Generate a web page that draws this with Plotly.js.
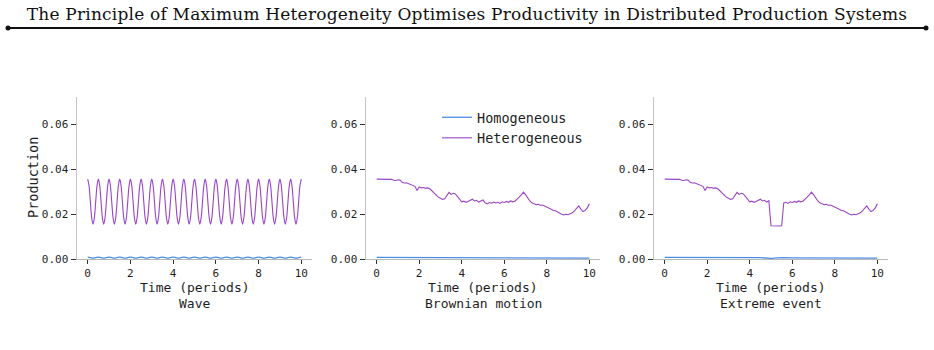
<!DOCTYPE html>
<html>
<head>
<meta charset="utf-8">
<script src="https://cdn.plot.ly/plotly-3.0.1.min.js"></script>
<style>
  html, body { margin: 0; padding: 0; background: #fff; }
  #chart { width: 934px; height: 350px; }
  #chart .gtitle { letter-spacing: 0.2px; }
</style>
</head>
<body>
<div id="chart"></div>
<script>
// Production of a distributed system under three perturbation scenarios.

// Wave scenario: heterogeneous sampled every 1/16 period, homogeneous every 1/8
const waveHeterogeneous = [
  0.0355, 0.0326, 0.0255, 0.0184, 0.0155, 0.0184, 0.0255, 0.0326,
  0.0355, 0.0326, 0.0255, 0.0184, 0.0155, 0.0184, 0.0255, 0.0326,
  0.0355, 0.0326, 0.0255, 0.0184, 0.0155, 0.0184, 0.0255, 0.0326,
  0.0355, 0.0326, 0.0255, 0.0184, 0.0155, 0.0184, 0.0255, 0.0326,
  0.0355, 0.0326, 0.0255, 0.0184, 0.0155, 0.0184, 0.0255, 0.0326,
  0.0355, 0.0326, 0.0255, 0.0184, 0.0155, 0.0184, 0.0255, 0.0326,
  0.0355, 0.0326, 0.0255, 0.0184, 0.0155, 0.0184, 0.0255, 0.0326,
  0.0355, 0.0326, 0.0255, 0.0184, 0.0155, 0.0184, 0.0255, 0.0326,
  0.0355, 0.0326, 0.0255, 0.0184, 0.0155, 0.0184, 0.0255, 0.0326,
  0.0355, 0.0326, 0.0255, 0.0184, 0.0155, 0.0184, 0.0255, 0.0326,
  0.0355, 0.0326, 0.0255, 0.0184, 0.0155, 0.0184, 0.0255, 0.0326,
  0.0355, 0.0326, 0.0255, 0.0184, 0.0155, 0.0184, 0.0255, 0.0326,
  0.0355, 0.0326, 0.0255, 0.0184, 0.0155, 0.0184, 0.0255, 0.0326,
  0.0355, 0.0326, 0.0255, 0.0184, 0.0155, 0.0184, 0.0255, 0.0326,
  0.0355, 0.0326, 0.0255, 0.0184, 0.0155, 0.0184, 0.0255, 0.0326,
  0.0355, 0.0326, 0.0255, 0.0184, 0.0155, 0.0184, 0.0255, 0.0326,
  0.0355, 0.0326, 0.0255, 0.0184, 0.0155, 0.0184, 0.0255, 0.0326,
  0.0355, 0.0326, 0.0255, 0.0184, 0.0155, 0.0184, 0.0255, 0.0326,
  0.0355, 0.0326, 0.0255, 0.0184, 0.0155, 0.0184, 0.0255, 0.0326,
  0.0355, 0.0326, 0.0255, 0.0184, 0.0155, 0.0184, 0.0255, 0.0326,
  0.0355
];
const waveHomogeneous = [
  0.0008, 0.0006, 0.0004, 0.0006, 0.0008, 0.0006, 0.0004, 0.0006,
  0.0008, 0.0006, 0.0004, 0.0006, 0.0008, 0.0006, 0.0004, 0.0006,
  0.0008, 0.0006, 0.0004, 0.0006, 0.0008, 0.0006, 0.0004, 0.0006,
  0.0008, 0.0006, 0.0004, 0.0006, 0.0008, 0.0006, 0.0004, 0.0006,
  0.0008, 0.0006, 0.0004, 0.0006, 0.0008, 0.0006, 0.0004, 0.0006,
  0.0008, 0.0006, 0.0004, 0.0006, 0.0008, 0.0006, 0.0004, 0.0006,
  0.0008, 0.0006, 0.0004, 0.0006, 0.0008, 0.0006, 0.0004, 0.0006,
  0.0008, 0.0006, 0.0004, 0.0006, 0.0008, 0.0006, 0.0004, 0.0006,
  0.0008, 0.0006, 0.0004, 0.0006, 0.0008, 0.0006, 0.0004, 0.0006,
  0.0008, 0.0006, 0.0004, 0.0006, 0.0008, 0.0006, 0.0004, 0.0006,
  0.0008
];

// Brownian motion scenario, sampled every 0.1 periods
const brownianHeterogeneous = [
  0.0355, 0.0355, 0.0354, 0.0355, 0.0355, 0.0354, 0.0355, 0.0354, 0.0350, 0.0349,
  0.0352, 0.0351, 0.0341, 0.0338, 0.0339, 0.0335, 0.0334, 0.0328, 0.0323, 0.0305,
  0.0320, 0.0316, 0.0318, 0.0314, 0.0316, 0.0312, 0.0302, 0.0293, 0.0284, 0.0275,
  0.0270, 0.0265, 0.0268, 0.0280, 0.0296, 0.0287, 0.0292, 0.0289, 0.0277, 0.0262,
  0.0254, 0.0257, 0.0252, 0.0256, 0.0262, 0.0266, 0.0258, 0.0261, 0.0253, 0.0259,
  0.0262, 0.0250, 0.0245, 0.0251, 0.0248, 0.0253, 0.0249, 0.0252, 0.0247, 0.0254,
  0.0251, 0.0256, 0.0252, 0.0258, 0.0254, 0.0257, 0.0264, 0.0275, 0.0285, 0.0297,
  0.0286, 0.0272, 0.0258, 0.0250, 0.0246, 0.0241, 0.0243, 0.0239, 0.0240, 0.0235,
  0.0232, 0.0228, 0.0222, 0.0217, 0.0214, 0.0208, 0.0203, 0.0199, 0.0196, 0.0199,
  0.0197, 0.0200, 0.0205, 0.0214, 0.0226, 0.0236, 0.0222, 0.0211, 0.0216, 0.0227,
  0.0245
];
// every 0.5 periods
const brownianHomogeneous = [
  0.0007, 0.0007, 0.0007, 0.0007, 0.0007, 0.0006, 0.0006, 0.0006, 0.0006, 0.0006,
  0.0006, 0.0006, 0.0005, 0.0005, 0.0005, 0.0005, 0.0005, 0.0005, 0.0004, 0.0004,
  0.0004
];

// Extreme event scenario: same path with a production shock from t = 5 to 5.5
const extremeHeterogeneous = [
  0.0355, 0.0355, 0.0354, 0.0355, 0.0355, 0.0354, 0.0355, 0.0354, 0.0350, 0.0349,
  0.0352, 0.0351, 0.0341, 0.0338, 0.0339, 0.0335, 0.0334, 0.0328, 0.0323, 0.0305,
  0.0320, 0.0316, 0.0318, 0.0314, 0.0316, 0.0312, 0.0302, 0.0293, 0.0284, 0.0275,
  0.0270, 0.0265, 0.0268, 0.0280, 0.0296, 0.0287, 0.0292, 0.0289, 0.0277, 0.0262,
  0.0254, 0.0257, 0.0252, 0.0256, 0.0262, 0.0266, 0.0258, 0.0261, 0.0253, 0.0259,
  0.0148, 0.0147, 0.0148, 0.0148, 0.0147, 0.0148, 0.0249, 0.0252, 0.0247, 0.0254,
  0.0251, 0.0256, 0.0252, 0.0258, 0.0254, 0.0257, 0.0264, 0.0275, 0.0285, 0.0297,
  0.0286, 0.0272, 0.0258, 0.0250, 0.0246, 0.0241, 0.0243, 0.0239, 0.0240, 0.0235,
  0.0232, 0.0228, 0.0222, 0.0217, 0.0214, 0.0208, 0.0203, 0.0199, 0.0196, 0.0199,
  0.0197, 0.0200, 0.0205, 0.0214, 0.0226, 0.0236, 0.0222, 0.0211, 0.0216, 0.0227,
  0.0245
];
const extremeHomogeneous = [
  0.0007, 0.0007, 0.0007, 0.0007, 0.0007, 0.0006, 0.0006, 0.0006, 0.0006, 0.0006,
  0.0003, 0.0006, 0.0005, 0.0005, 0.0005, 0.0005, 0.0005, 0.0005, 0.0004, 0.0004,
  0.0004
];

const seriesNames = ['Homogeneous', 'Heterogeneous'];
const scenarioNames = ['Wave', 'Brownian motion', 'Extreme event'];
const xTickValues = [0, 2, 4, 6, 8, 10];
const yTickValues = [0, 0.02, 0.04, 0.06];
const xAxisLabel = 'Time (periods)';
const yAxisLabel = 'Production';
const chartTitle = 'The Principle of Maximum Heterogeneity Optimises Productivity in Distributed Production Systems';

const BLUE = '#4a8fe6';
const PURPLE = '#9a45c8';
const INK = '#1e1e1e';
const MONO = '"DejaVu Sans Mono", "Liberation Mono", monospace';
const W = 934, H = 350;

const panels = [
  { hom: waveHomogeneous, homDx: 0.125, het: waveHeterogeneous, hetDx: 0.0625, spline: true },
  { hom: brownianHomogeneous, homDx: 0.5, het: brownianHeterogeneous, hetDx: 0.1 },
  { hom: extremeHomogeneous, homDx: 0.5, het: extremeHeterogeneous, hetDx: 0.1 }
];
const domainsPx = [[77, 312], [366, 600], [654, 888]];
const yDomain = [1 - 259 / H, 1 - 97 / H];
const py = px => 1 - px / H;

const traces = [];
const layout = {
  width: W, height: H,
  margin: { l: 0, r: 0, t: 0, b: 0 },
  paper_bgcolor: '#fff', plot_bgcolor: '#fff',
  font: { family: MONO, color: INK, size: 10 },
  title: {
    text: chartTitle,
    font: { family: '"DejaVu Serif", "Liberation Serif", serif', size: 17, color: '#111' },
    x: 0.5, xanchor: 'center', y: py(14), yanchor: 'middle'
  },
  showlegend: true,
  legend: {
    x: 437 / W, xanchor: 'left', y: py(102), yanchor: 'top',
    bgcolor: 'rgba(0,0,0,0)', borderwidth: 0,
    font: { family: MONO, size: 13.5, color: INK }
  },
  shapes: [], annotations: []
};

panels.forEach((p, i) => {
  const n = i === 0 ? '' : String(i + 1);
  const xa = 'x' + n, ya = 'y' + n;
  const line = p.spline ? { shape: 'spline', smoothing: 1 } : {};
  traces.push({
    type: 'scatter', mode: 'lines', name: seriesNames[0],
    x0: 0, dx: p.homDx, y: p.hom, xaxis: xa, yaxis: ya,
    line: Object.assign({ color: BLUE, width: 1.3 }, line),
    showlegend: i === 1
  });
  traces.push({
    type: 'scatter', mode: 'lines', name: seriesNames[1],
    x0: 0, dx: p.hetDx, y: p.het, xaxis: xa, yaxis: ya,
    line: Object.assign({ color: PURPLE, width: 1.1 }, line),
    showlegend: i === 1
  });
  const d = domainsPx[i];
  layout['xaxis' + n] = {
    domain: [d[0] / W, d[1] / W], anchor: ya,
    range: [-0.5, 10.5], tickvals: xTickValues,
    ticks: 'outside', ticklen: 4, tickcolor: '#333', tickwidth: 1,
    showline: true, linecolor: '#b8b8b8', linewidth: 1,
    showgrid: false, zeroline: false,
    tickfont: { family: MONO, size: 11, color: INK }
  };
  layout['yaxis' + n] = {
    domain: yDomain, anchor: xa,
    range: [0, 0.072], tickvals: yTickValues, tickformat: '.2f',
    ticks: 'outside', ticklen: 5, tickcolor: '#333', tickwidth: 1,
    showline: true, linecolor: '#c4c4c4', linewidth: 1.5,
    showgrid: false, zeroline: false,
    tickfont: { family: MONO, size: 11, color: INK }
  };
  const cx = (d[0] + d[1]) / 2 / W;
  // x-axis label and scenario name beneath each panel
  layout.annotations.push({
    text: xAxisLabel, xref: 'paper', yref: 'paper', x: cx, y: py(287),
    xanchor: 'center', yanchor: 'middle', showarrow: false,
    font: { family: MONO, size: 13, color: INK }
  });
  layout.annotations.push({
    text: scenarioNames[i], xref: 'paper', yref: 'paper', x: cx, y: py(303),
    xanchor: 'center', yanchor: 'middle', showarrow: false,
    font: { family: MONO, size: 13, color: INK }
  });
});

// y-axis label on the first panel only
layout.annotations.push({
  text: yAxisLabel, xref: 'paper', yref: 'paper', x: 33 / W, y: py(178),
  xanchor: 'center', yanchor: 'middle', textangle: -90, showarrow: false,
  font: { family: MONO, size: 13.5, color: INK }
});

// Rule under the title with round end caps
const ruleY = py(28);
layout.shapes.push({
  type: 'line', xref: 'paper', yref: 'paper',
  x0: 8 / W, x1: 926 / W, y0: ruleY, y1: ruleY,
  line: { color: '#111', width: 2 }
});
[8, 926].forEach(px => {
  layout.shapes.push({
    type: 'circle', xref: 'paper', yref: 'paper',
    x0: (px - 2.5) / W, x1: (px + 2.5) / W,
    y0: ruleY - 2.5 / H, y1: ruleY + 2.5 / H,
    fillcolor: '#111', line: { width: 0 }
  });
});

Plotly.newPlot('chart', traces, layout, { displayModeBar: false, staticPlot: true });
</script>
</body>
</html>
